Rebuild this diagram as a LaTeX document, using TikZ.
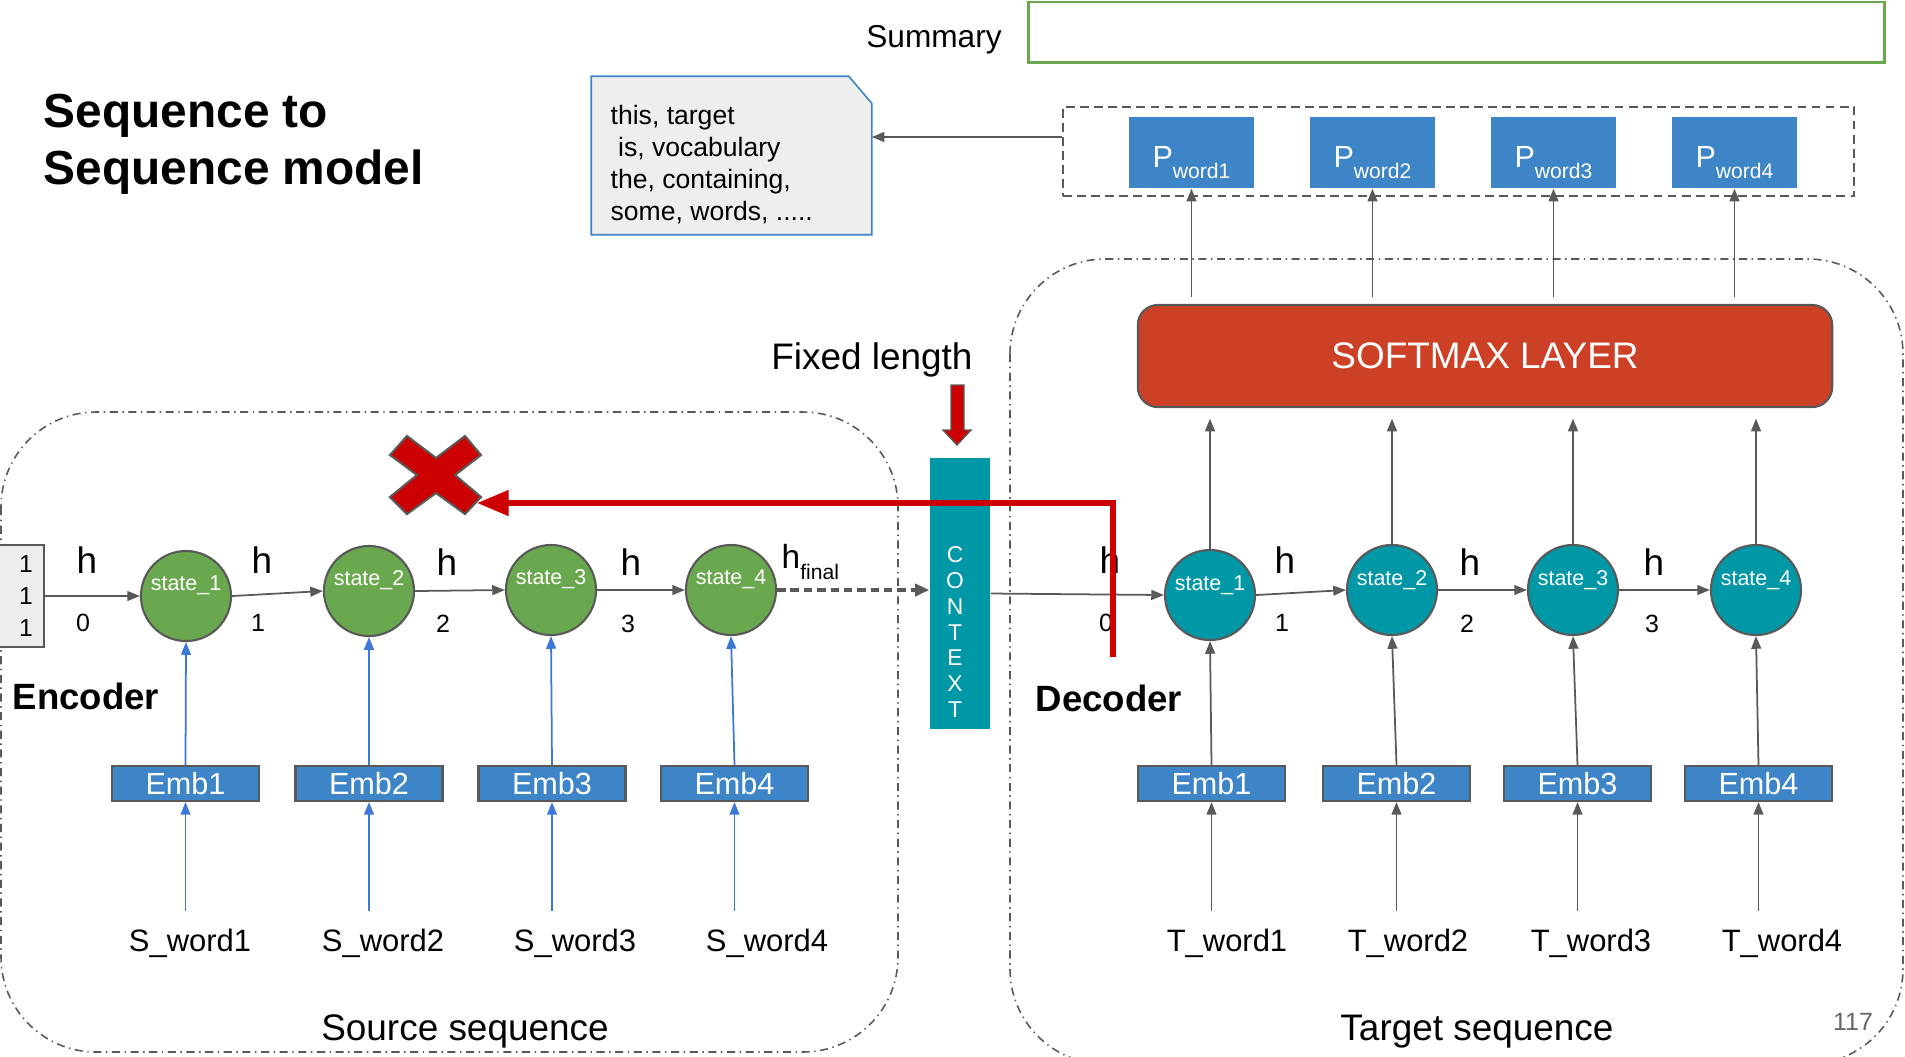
\documentclass[tikz,border=0pt]{standalone}
\usepackage{fontspec}
\setmainfont{Liberation Sans}
\usetikzlibrary{arrows.meta,shapes.geometric}
\definecolor{ggrey}{HTML}{595959}
\definecolor{ggreen}{HTML}{6AA84F}
\definecolor{gteal}{HTML}{0097A7}
\definecolor{gblue}{HTML}{3D85C6}
\definecolor{gbluearrow}{HTML}{3C78D8}
\definecolor{gsoft}{HTML}{CC4125}
\definecolor{gred}{HTML}{CC0000}
\definecolor{gnote}{HTML}{EEEEEE}
\definecolor{gpage}{HTML}{666666}
\newcommand\fsz[2]{\fontsize{#1pt}{#2pt}\selectfont}
\tikzset{
  grarrow/.style={draw=ggrey, line width=0.5pt, -{Triangle[length=3.6pt,width=2.8pt]}},
  blarrow/.style={draw=gbluearrow, line width=0.5pt, -{Triangle[length=3.6pt,width=2.8pt]}},
  encstate/.style={circle, draw=ggrey, line width=0.6pt, fill=ggreen, minimum size=0.9cm, inner sep=0pt, text=white, font=\fsz{6.1}{7}},
  decstate/.style={encstate, fill=gteal},
  embbox/.style={rectangle, draw=ggrey, line width=0.6pt, fill=gblue, minimum width=1.47cm, minimum height=0.35cm, inner sep=0pt, text=white, font=\fsz{8.7}{10}},
  wordlbl/.style={anchor=base, inner ysep=4.7pt, inner xsep=0pt, font=\fsz{8.8}{10}},
  hlbl/.style={inner sep=0pt, font=\fsz{10.5}{12}},
  idxlbl/.style={inner sep=0pt, font=\fsz{7.1}{8}},
  pword/.style={rectangle, fill=gblue, minimum width=1.25cm, minimum height=0.71cm, inner sep=0pt, text=white},
  boundary/.style={draw=ggrey, line width=0.45pt, dash pattern=on 2.3pt off 1.3pt on 0.4pt off 1.3pt, rounded corners=0.95cm},
  redline/.style={draw=gred, line width=1.7pt, -{Triangle[length=9pt,width=7pt]}},
  plainlbl/.style={inner sep=0pt, font=\fsz{10.5}{12}},
}
\newcommand\ptxt[1]{\raisebox{-0.145cm}[0pt][0pt]{\fsz{8.7}{10}P\raisebox{-0.11cm}{\fsz{6}{7}word#1}}}
\newcommand\etxt[1]{\raisebox{0.055cm}[0pt][0pt]{state\_#1}}
\newcommand\dtxt[1]{\raisebox{0.045cm}[0pt][0pt]{state\_#1}}
\begin{document}
\begin{tikzpicture}[x=0.01cm,y=-0.01cm]
\useasboundingbox (0,0) rectangle (1905,1056);
\clip (0,0) rectangle (1905,1056);

% boundaries
\draw[boundary] (1,412) rectangle (898,1052);
\draw[boundary] (1010,259) rectangle (1903,1064);

% title
\node[anchor=base west, inner sep=0pt, font=\fsz{13.6}{16}\bfseries] (title1) at (43,127) {Sequence to};
\node[anchor=base west, inner sep=0pt, font=\fsz{13.6}{16}\bfseries] (title2) at (43,184) {Sequence model};

% summary
\node[inner sep=0pt, font=\fsz{9}{10}] (sumlbl) at (934,40) {Summary};
\node[draw=ggreen, line width=0.85pt, minimum width=8.55cm, minimum height=0.6cm, inner sep=0pt] (sumbox) at (1456.5,32) {};

% note
\node[minimum width=2.79cm, minimum height=1.57cm, inner sep=0pt] (note) at (731.5,155.5) {};
\draw[fill=gnote, draw=gblue, line width=0.45pt] (note.south west) -- (note.north west) -- ([xshift=-0.23cm]note.north east) -- ([yshift=-0.27cm]note.north east) -- (note.south east) -- cycle;
\node[anchor=north west, inner sep=0pt, align=left, font=\fsz{7.55}{9.1}] (notetext) at (610,105) {this, target\\\hspace*{0.28em}is, vocabulary\\the, containing,\\some, words, .....};

% P group
\node[draw=ggrey, line width=0.5pt, dash pattern=on 2.5pt off 1.5pt, minimum width=7.91cm, minimum height=0.89cm, inner sep=0pt] (pgroup) at (1458.5,151.5) {};
\node[pword] (p1) at (1191.5,152.5) {\ptxt{1}};
\node[pword] (p2) at (1372.5,152.5) {\ptxt{2}};
\node[pword] (p3) at (1553.5,152.5) {\ptxt{3}};
\node[pword] (p4) at (1734.5,152.5) {\ptxt{4}};
\coordinate (ay) at (0,137);
\draw[grarrow] (pgroup.west |- ay) -- (note.east |- ay);

% softmax
\node[rectangle, rounded corners=0.2cm, fill=gsoft, draw=ggrey, line width=0.6pt, minimum width=6.94cm, minimum height=1.02cm, inner sep=0pt, text=white, font=\fsz{10.5}{12}] (softmax) at (1485,356) {SOFTMAX LAYER};
\foreach \i in {1,2,3,4}{
  \draw[grarrow, shorten <=2pt] (p\i.south |- softmax.north) -- (p\i.south);
}

% fixed length
\node[plainlbl] (fixed) at (872,360) {Fixed length};
\draw[fill=gred, draw=ggrey, line width=0.4pt] (951,385) -- (964,385) -- (964,430) -- (971,430) -- (957,445) -- (943,430) -- (951,430) -- cycle;

% context
\node[rectangle, fill=gteal, minimum width=0.6cm, minimum height=2.71cm, inner sep=0pt] (ctx) at (960,593.5) {};
\node[inner sep=0pt, align=center, text=white, font=\fsz{6.5}{7.37}] (ctxlbl) at (955,632) {C\\O\\N\\T\\E\\X\\T};

% input box
\node[rectangle, fill=gnote, draw=ggrey, line width=0.6pt, minimum width=0.46cm, minimum height=1.02cm, inner sep=0pt, align=center, font=\fsz{7}{9}] (inbox) at (21,596) {\hspace*{0.1cm}1\\\hspace*{0.1cm}1\\\hspace*{0.1cm}1};

% encoder states
\node[encstate] (s1) at (186,596) {\etxt{1}};
\node[encstate] (s2) at (369,591) {\etxt{2}};
\node[encstate] (s3) at (551,590) {\etxt{3}};
\node[encstate] (s4) at (731,590) {\etxt{4}};
\draw[grarrow] (inbox.east) -- (s1.west);
\draw[grarrow] (s1.east) -- (s2.west);
\draw[grarrow] (s2.east) -- (s3.west);
\draw[grarrow] (s3.east) -- (s4.west);
\draw[draw=ggrey, line width=1pt, dash pattern=on 2.4pt off 1.4pt, -{Triangle[length=4pt,width=3.4pt]}] (s4.east) -- (s4.east -| ctx.west);

\node[hlbl] (eh0) at (87,560) {h};
\node[hlbl] (eh1) at (262,560) {h};
\node[hlbl] (eh2) at (447,562) {h};
\node[hlbl] (eh3) at (631,562) {h};
\node[idxlbl] (ei0) at (83,623) {0};
\node[idxlbl] (ei1) at (258,623) {1};
\node[idxlbl] (ei2) at (443,624) {2};
\node[idxlbl] (ei3) at (628,624) {3};
\node[anchor=base west, inner sep=0pt, font=\fsz{9.5}{11}] (ehf) at (781,568) {h\raisebox{-0.11cm}{\fsz{6}{7}final}};

% encoder embeddings and words
\node[embbox] (e1) at (185.5,783.5) {Emb1};
\node[embbox] (e2) at (369,783.5) {Emb2};
\node[embbox] (e3) at (552,783.5) {Emb3};
\node[embbox] (e4) at (734.5,783.5) {Emb4};
\node[wordlbl] (sw1) at (190,951) {S\_word1};
\node[wordlbl] (sw2) at (383,951) {S\_word2};
\node[wordlbl] (sw3) at (575,951) {S\_word3};
\node[wordlbl] (sw4) at (767,951) {S\_word4};
\foreach \i in {1,2,3,4}{
  \draw[blarrow] (e\i.south |- sw\i.north) -- (e\i.south);
  \draw[blarrow] (e\i.north) -- (s\i.south);
}
\node[anchor=west, inner sep=0pt, font=\fsz{10.4}{12}\bfseries] (enclbl) at (12,696) {Encoder};
\node[anchor=base, inner sep=0pt, font=\fsz{10.5}{12}] (srcseq) at (465,1040) {Source sequence};

% decoder states
\node[decstate] (d1) at (1210,595) {\dtxt{1}};
\node[decstate] (d2) at (1392,590) {\dtxt{2}};
\node[decstate] (d3) at (1573,590) {\dtxt{3}};
\node[decstate] (d4) at (1756,590) {\dtxt{4}};
\draw[grarrow] (ctx.east) -- (d1.west);
\draw[grarrow] (d1.east) -- (d2.west);
\draw[grarrow] (d2.east) -- (d3.west);
\draw[grarrow] (d3.east) -- (d4.west);
\foreach \i in {1,2,3,4}{
  \draw[grarrow, shorten >=3pt] (d\i.north) -- (d\i.north |- softmax.south);
}
\node[hlbl] (dh0) at (1110,560) {h};
\node[hlbl] (dh1) at (1285,560) {h};
\node[hlbl] (dh2) at (1470,562) {h};
\node[hlbl] (dh3) at (1654,562) {h};
\node[idxlbl] (di0) at (1106,623) {0};
\node[idxlbl] (di1) at (1282,623) {1};
\node[idxlbl] (di2) at (1467,624) {2};
\node[idxlbl] (di3) at (1652,624) {3};

% decoder embeddings and words
\node[embbox] (de1) at (1211.5,783.5) {Emb1};
\node[embbox] (de2) at (1396.5,783.5) {Emb2};
\node[embbox] (de3) at (1577.5,783.5) {Emb3};
\node[embbox] (de4) at (1758.5,783.5) {Emb4};
\node[wordlbl] (tw1) at (1227,951) {T\_word1};
\node[wordlbl] (tw2) at (1408,951) {T\_word2};
\node[wordlbl] (tw3) at (1591,951) {T\_word3};
\node[wordlbl] (tw4) at (1782,951) {T\_word4};
\foreach \i in {1,2,3,4}{
  \draw[grarrow] (de\i.south |- tw\i.north) -- (de\i.south);
  \draw[grarrow] (de\i.north) -- (d\i.south);
}
\node[anchor=west, inner sep=0pt, font=\fsz{10.4}{12}\bfseries] (declbl) at (1035,698) {Decoder};
\node[anchor=base, inner sep=0pt, font=\fsz{10.5}{12}] (tgtseq) at (1477,1040) {Target sequence};
\node[inner sep=0pt, text=gpage, font=\fsz{7.1}{8}] (pagenum) at (1853,1022) {117};

% red cross and red line
\draw[fill=gred, draw=ggrey, line width=0.6pt] (390,455) -- (407,436) -- (436,458) -- (465,436) -- (481,455) -- (455,475) -- (481,497) -- (465,514) -- (436,493) -- (407,514) -- (390,497) -- (417,475) -- cycle;
\coordinate (rstart) at (1113,657);
\coordinate (rend) at (477,503);
\draw[redline] (rstart) |- (rend);
\end{tikzpicture}
\end{document}
